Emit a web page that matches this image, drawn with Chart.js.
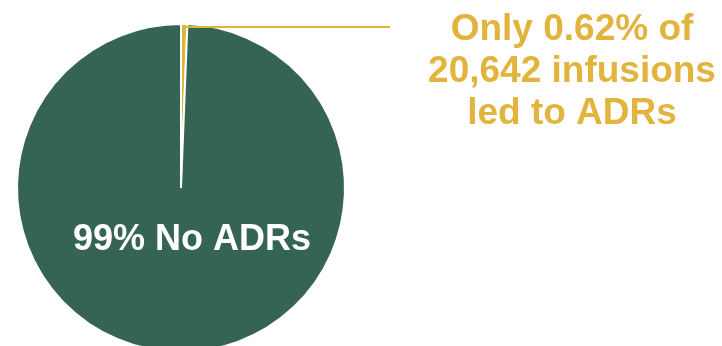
<!DOCTYPE html>
<html>
<head>
<meta charset="utf-8">
<script src="https://cdn.jsdelivr.net/npm/chart.js@4/dist/chart.umd.min.js"></script>
<style>
  html, body { margin: 0; padding: 0; background: #fff; overflow: hidden; }
  #wrap { position: relative; width: 722px; height: 376px; }
</style>
</head>
<body>
<div id="wrap"><canvas id="adrChart"></canvas></div>
<script>
const categories = ['ADRs', 'No ADRs'];
const shares = [0.62, 99.38];
const sliceColors = ['#E2B43E', '#356457'];
const calloutLines = ['Only 0.62% of', '20,642 infusions', 'led to ADRs'];
const mainLabel = '99% No ADRs';

// leader line + text labels
const labelPlugin = {
  id: 'adrLabels',
  afterDraw(chart) {
    const c = chart.ctx;
    const arcs = chart.getDatasetMeta(0).data;
    const small = arcs[0];
    const mid = (small.startAngle + small.endAngle) / 2;
    const r = small.outerRadius - 3;
    const sx = small.x + Math.cos(mid) * r;
    const sy = small.y + Math.sin(mid) * r;

    c.save();
    c.strokeStyle = sliceColors[0];
    c.lineWidth = 2;
    c.beginPath();
    c.moveTo(sx - 1, sy);
    c.lineTo(390, sy);
    c.stroke();

    c.fillStyle = sliceColors[0];
    c.font = 'bold 37px "Liberation Sans", Arial, sans-serif';
    c.textAlign = 'center';
    c.textBaseline = 'alphabetic';
    calloutLines.forEach((t, i) => c.fillText(t, 572, 40 + i * 42));

    c.fillStyle = '#ffffff';
    c.font = 'bold 36px "Liberation Sans", Arial, sans-serif';
    c.fillText(mainLabel, 192, 250);
    c.restore();
  }
};

const ctx = document.getElementById('adrChart').getContext('2d');
const adrChart = new Chart(ctx, {
  type: 'pie',
  data: {
    labels: categories,
    datasets: [{
      data: shares,
      backgroundColor: sliceColors,
      borderColor: '#ffffff',
      borderWidth: 2
    }]
  },
  options: {
    responsive: true,
    maintainAspectRatio: false,
    animation: false,
    layout: { padding: { left: 16, top: 23, right: 376, bottom: 23 } },
    plugins: {
      legend: { display: false },
      tooltip: { enabled: false }
    }
  },
  plugins: [labelPlugin]
});
</script>
</body>
</html>
